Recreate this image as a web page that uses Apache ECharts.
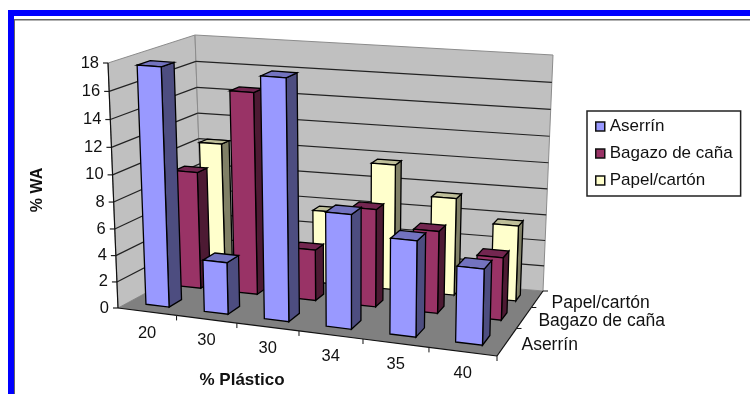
<!DOCTYPE html>
<html>
<head>
<meta charset="utf-8">
<style>html,body{margin:0;padding:0;background:#fff}#chart{width:750px;height:394px}</style>
<script src="https://cdn.jsdelivr.net/npm/echarts@6/dist/echarts.min.js"></script>
</head>
<body>
<div id="chart"></div>
<script>
// Chart data
const categories = ['20', '30', '30', '34', '35', '40'];
const depthNames = ['Aserrín', 'Bagazo de caña', 'Papel/cartón'];
const valueTicks = [0, 2, 4, 6, 8, 10, 12, 14, 16, 18];
const aserrin = [17.7, 3.9, 17.6, 8.4, 7, 5.5];
const bagazo = [9, 15.3, 3.9, 7.4, 6.2, 4.7];
const papel = [10.3, 7, 5.7, 9.7, 7.5, 5.8];
const xTitle = '% Plástico';
const yTitle = '% WA';

const FONT = '"Liberation Sans", Arial, sans-serif';

// Box of the 3D scene: F/B front/back, L/R left/right, B/T bottom/top.
const box = {
  FLB: [118, 308], FRB: [497, 356], BLB: [203, 262], BRB: [543, 291],
  FLT: [108, 63], FRT: [503, 94], BLT: [195, 35], BRT: [553, 55]
};
// Foreshortening of each axis of the scene.
const warp = (s, k) => s / (s + k * (1 - s));
const lerp = (a, b, t) => [a[0] + (b[0] - a[0]) * t, a[1] + (b[1] - a[1]) * t];

// s, v, d are 0..1 along category, value and depth.
function project(s, v, d) {
  const u = warp(s, 1.094), h = warp(v, 1.05), w = warp(d, 0.68);
  const bottom = lerp(lerp(box.FLB, box.FRB, u), lerp(box.BLB, box.BRB, u), w);
  const top = lerp(lerp(box.FLT, box.FRT, u), lerp(box.BLT, box.BRT, u), w);
  return lerp(bottom, top, h);
}

// Normalises a pixel from the hidden cartesian axes to the scene's 0..1 range.
function unit(api, params, cat, val) {
  const c = api.coord([cat, val]);
  const g = params.coordSys;
  return [(c[0] - g.x) / g.width, (g.y + g.height - c[1]) / g.height];
}

const poly = (points, fill, stroke, lw) => ({
  type: 'polygon', shape: { points }, silent: true,
  style: { fill, stroke: stroke || null, lineWidth: lw === undefined ? 1 : lw }
});
const seg = (a, b, stroke, lw) => ({
  type: 'line', silent: true,
  shape: { x1: a[0], y1: a[1], x2: b[0], y2: b[1] },
  style: { stroke, lineWidth: lw || 1 }
});
const label = (text, x, y, align, size, weight, rotation) => ({
  type: 'text', silent: true, x, y, rotation: rotation || 0,
  style: {
    text, fill: '#111', font: (weight || 'normal') + ' ' + size + 'px ' + FONT,
    align: align || 'center', verticalAlign: 'middle'
  }
});

// One 3D column: front face, right side and lid.
function columnSeries(name, values, row, colors) {
  const zLo = (row + 0.27) / 3, zHi = (row + 0.63) / 3;
  return {
    type: 'custom', name, coordinateSystem: 'cartesian2d', clip: false, silent: true,
    data: values.map((v, i) => [i, v]),
    encode: { x: 0, y: 1 },
    renderItem(params, api) {
      const [sc, sv] = unit(api, params, api.value(0), api.value(1));
      const half = 0.2 / categories.length;
      const a = sc - half, b = sc + half;
      const p = (s, v, d) => project(s, v, d);
      return {
        type: 'group',
        children: [
          poly([p(b, 0, zLo), p(b, 0, zHi), p(b, sv, zHi), p(b, sv, zLo)], colors[1], '#000', 1.3),
          poly([p(a, sv, zLo), p(b, sv, zLo), p(b, sv, zHi), p(a, sv, zHi)], colors[2], '#000', 1.3),
          poly([p(a, 0, zLo), p(b, 0, zLo), p(b, sv, zLo), p(a, sv, zLo)], colors[0], '#000', 1.3)
        ]
      };
    }
  };
}

const series = [
  // Walls and floor
  {
    type: 'custom', coordinateSystem: 'cartesian2d', clip: false, silent: true, data: [[0, 0]],
    renderItem() {
      const c = (s, v, d) => project(s, v, d);
      return {
        type: 'group',
        children: [
          poly([c(0,0,0), c(0,0,1), c(0,1,1), c(0,1,0)], '#c0c0c0', '#8c8c8c'),
          poly([c(0,0,1), c(1,0,1), c(1,1,1), c(0,1,1)], '#c0c0c0', '#8c8c8c'),
          poly([c(0,0,0), c(1,0,0), c(1,0,1), c(0,0,1)], '#808080', null, 0)
        ]
      };
    }
  },
  // Gridlines, ticks and labels of the value axis
  {
    type: 'custom', coordinateSystem: 'cartesian2d', clip: false, silent: true,
    data: valueTicks.map(t => [0, t]),
    renderItem(params, api) {
      const t = api.value(1);
      const v = unit(api, params, 0, t)[1];
      const a = project(0, v, 0), b = project(0, v, 1), d = project(1, v, 1);
      const kids = [seg([a[0] - 5, a[1]], a, '#222', 1.2)];
      if (t > 0 && t < 18) kids.push(seg(a, b, '#222', 1.2), seg(b, d, '#222', 1.2));
      kids.push(label(String(t), a[0] - 9, a[1], 'right', 16.5));
      return { type: 'group', children: kids };
    }
  },
  columnSeries(depthNames[2], papel, 2, ['#ffffcc', '#808066', '#bfbf99']),
  columnSeries(depthNames[1], bagazo, 1, ['#993366', '#4d1a33', '#732650']),
  columnSeries(depthNames[0], aserrin, 0, ['#9999ff', '#4d4d80', '#7373bf']),
  // Front edges of the scene, category labels and ticks
  {
    type: 'custom', coordinateSystem: 'cartesian2d', clip: false, silent: true,
    data: categories.map((c, i) => [i, 0]),
    renderItem(params, api) {
      const i = api.value(0);
      const sc = unit(api, params, i, 0)[0];
      const half = 0.5 / categories.length;
      const l = project(sc - half, 0, 0), r = project(sc + half, 0, 0), m = project(sc, 0, 0);
      return {
        type: 'group',
        children: [
          seg(l, r, '#111', 1.2),
          seg(r, [r[0], r[1] + 5], '#111'),
          label(categories[i], m[0], m[1] + 21.5, 'center', 16.5)
        ]
      };
    }
  },
  // Depth axis along the right edge of the floor
  {
    type: 'custom', coordinateSystem: 'cartesian2d', clip: false, silent: true,
    data: depthNames.map((n, i) => [i, 0]),
    renderItem(params, api) {
      const i = api.value(0);
      const a = project(1, 0, i / 3), b = project(1, 0, (i + 1) / 3), m = project(1, 0, (i + 0.5) / 3);
      return {
        type: 'group',
        children: [
          seg(a, b, '#111', 1.2),
          seg(b, [b[0] + 5, b[1]], '#111'),
          label(depthNames[i], m[0] + 14, m[1] + 4, 'left', 17.5)
        ]
      };
    }
  },
  // Front-left edge of the value axis
  {
    type: 'custom', coordinateSystem: 'cartesian2d', clip: false, silent: true, data: [[0, 0]],
    renderItem() {
      return seg(project(0, 0, 0), project(0, 1, 0), '#111', 1.2);
    }
  }
];

const chart = echarts.init(document.getElementById('chart'), null, { renderer: 'canvas' });
chart.setOption({
  animation: false,
  backgroundColor: '#fff',
  grid: { left: 118, top: 63, width: 379, height: 245 },
  xAxis: { type: 'category', data: categories, show: false },
  yAxis: { type: 'value', min: 0, max: 18, interval: 2, show: false },
  legend: {
    left: 587, top: 111, orient: 'vertical', selectedMode: false,
    padding: [7, 8, 7, 8], itemGap: 10, itemWidth: 9, itemHeight: 9, icon: 'rect',
    backgroundColor: '#fff', borderColor: '#222', borderWidth: 1.5,
    textStyle: { fontFamily: FONT, fontSize: 17, color: '#111' },
    data: [
      { name: depthNames[0], itemStyle: { color: '#9999ff', borderColor: '#111', borderWidth: 1.5 } },
      { name: depthNames[1], itemStyle: { color: '#993366', borderColor: '#111', borderWidth: 1.5 } },
      { name: depthNames[2], itemStyle: { color: '#ffffcc', borderColor: '#111', borderWidth: 1.5 } }
    ]
  },
  graphic: [
    { type: 'rect', silent: true, shape: { x: 8, y: 10, width: 742, height: 6 }, style: { fill: '#0000ff' } },
    { type: 'rect', silent: true, shape: { x: 8, y: 10, width: 6, height: 384 }, style: { fill: '#0000ff' } },
    { type: 'rect', silent: true, shape: { x: 14, y: 19, width: 736, height: 1.5 }, style: { fill: '#666' } },
    { type: 'rect', silent: true, shape: { x: 14, y: 19, width: 1, height: 375 }, style: { fill: '#666' } },
    { type: 'text', silent: true, x: 38, y: 190, rotation: Math.PI / 2,
      style: { text: yTitle, font: 'bold 16px ' + FONT, fill: '#111', align: 'center', verticalAlign: 'middle' } },
    { type: 'text', silent: true, x: 242, y: 380,
      style: { text: xTitle, font: 'bold 17px ' + FONT, fill: '#111', align: 'center', verticalAlign: 'middle' } }
  ],
  series
});
</script>
</body>
</html>
